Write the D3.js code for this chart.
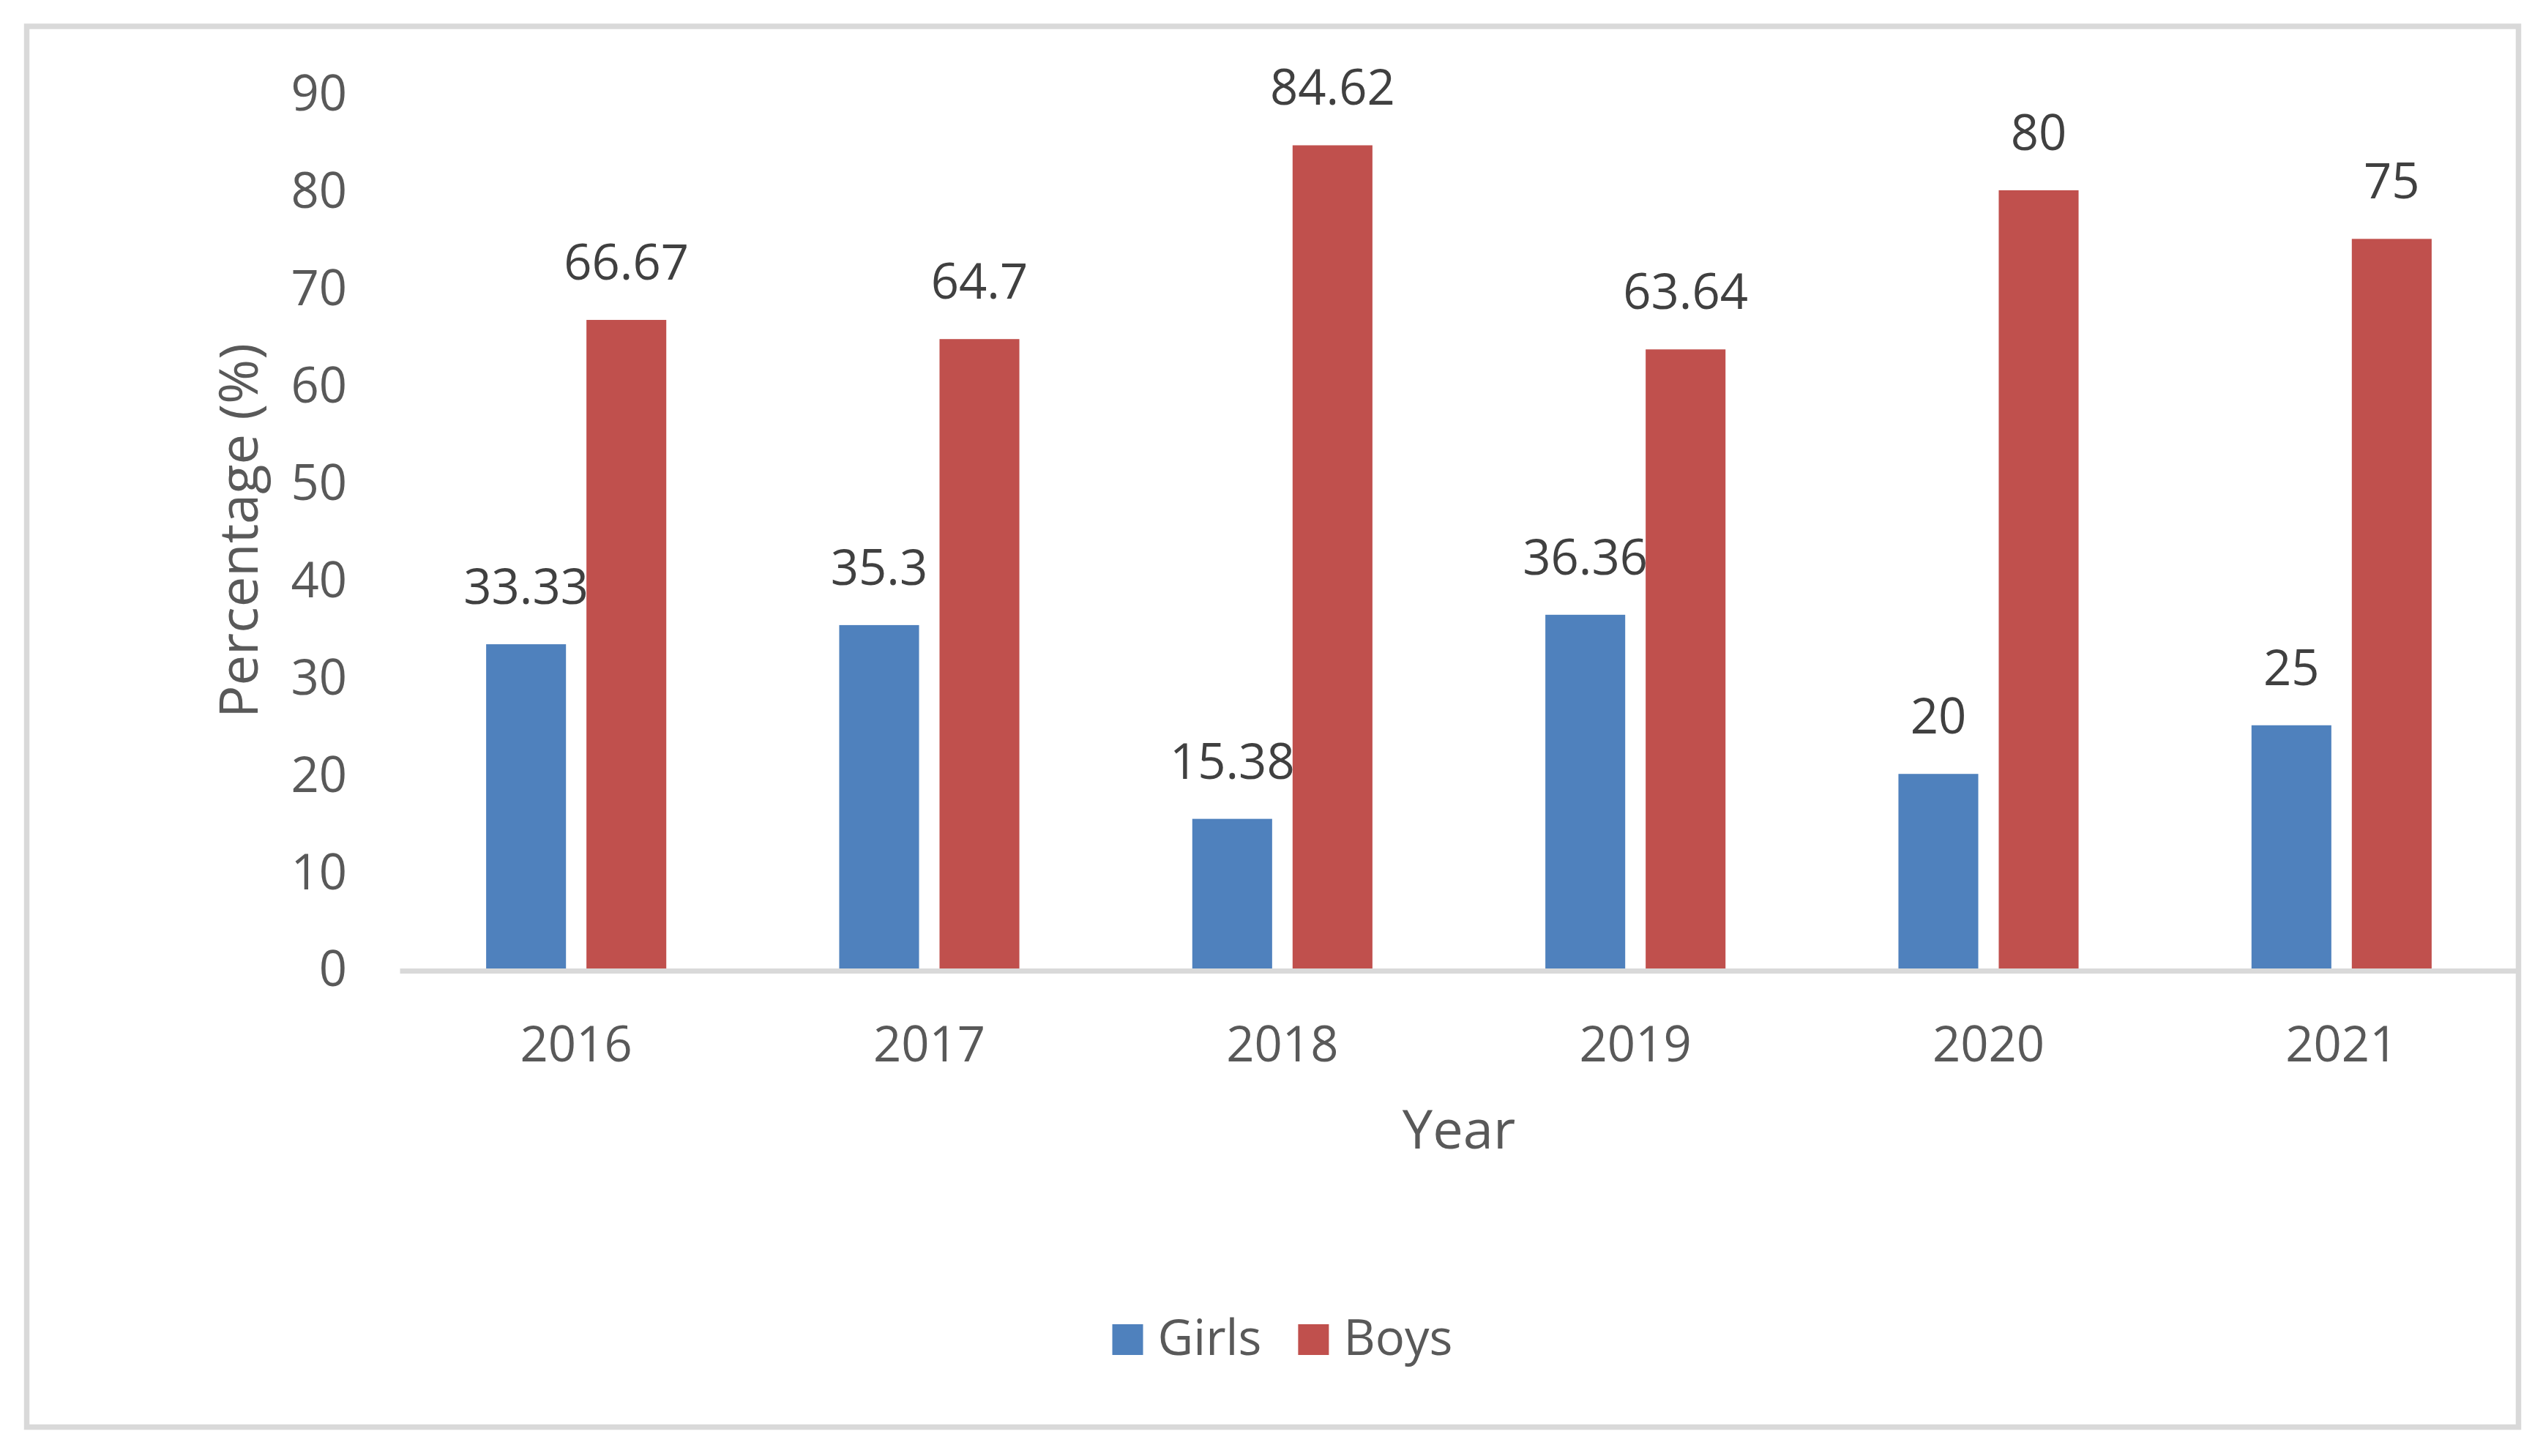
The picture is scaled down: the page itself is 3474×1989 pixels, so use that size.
<!DOCTYPE html>
<html>
<head>
<meta charset="utf-8">
<script src="https://cdn.jsdelivr.net/npm/d3@7"></script>
<style>
  body { margin: 0; background: #fff; }
  text { font-family: "Open Sans", sans-serif; }
</style>
</head>
<body>
<div id="vis"></div>
<script>
// data
var years = ['2016', '2017', '2018', '2019', '2020', '2021'];
var series = ['Girls', 'Boys'];
var girls = [33.33, 35.3, 15.38, 36.36, 20, 25];
var boys = [66.67, 64.7, 84.62, 63.64, 80, 75];
var yTicks = [0, 10, 20, 30, 40, 50, 60, 70, 80, 90];
var colors = { Girls: '#4F81BD', Boys: '#C0504D' };

var W = 3474, H = 1989;

var svg = d3.select('#vis').append('svg')
    .attr('width', W)
    .attr('height', H);

// chart border
svg.append('rect')
    .attr('x', 36.5).attr('y', 36)
    .attr('width', 3404).attr('height', 1913.5)
    .attr('fill', '#fff')
    .attr('stroke', '#d9d9d9')
    .attr('stroke-width', 7.5);

var x0 = d3.scaleBand()
    .domain(years)
    .range([546, 3440]);

var x1 = d3.scaleBand()
    .domain(series)
    .range([0, x0.bandwidth()])
    .paddingInner(0.204)
    .paddingOuter(0.862);

var y = d3.scaleLinear()
    .domain([0, 90])
    .range([1323, 127]);

var rows = years.map(function (yr, i) {
    return { year: yr, values: [
        { key: 'Girls', value: girls[i] },
        { key: 'Boys', value: boys[i] }
    ] };
});

// y axis (labels only)
var yAxis = svg.append('g')
    .attr('transform', 'translate(546,0)')
    .call(d3.axisLeft(y).tickValues(yTicks).tickSize(0).tickPadding(72));
yAxis.select('.domain').remove();
yAxis.selectAll('text')
    .attr('dy', '0.357em')
    .style('font-size', '67px')
    .style('fill', '#595959');

// bars
var groups = svg.append('g')
    .selectAll('g')
    .data(rows)
    .enter()
    .append('g')
    .attr('transform', function (d) { return 'translate(' + x0(d.year) + ',0)'; });

groups.selectAll('rect')
    .data(function (d) { return d.values; })
    .enter()
    .append('rect')
    .attr('x', function (d) { return x1(d.key); })
    .attr('y', function (d) { return y(d.value); })
    .attr('width', x1.bandwidth())
    .attr('height', function (d) { return y(0) - y(d.value); })
    .attr('fill', function (d) { return colors[d.key]; });

// data labels
groups.selectAll('text')
    .data(function (d) { return d.values; })
    .enter()
    .append('text')
    .attr('x', function (d) { return x1(d.key) + x1.bandwidth() / 2; })
    .attr('y', function (d) { return y(d.value) - 55; })
    .attr('text-anchor', 'middle')
    .style('font-size', '67px')
    .style('fill', '#404040')
    .text(function (d) { return d.value; });

// x axis
var xAxis = svg.append('g')
    .attr('transform', 'translate(0,1326)')
    .call(d3.axisBottom(x0).tickSize(0).tickPadding(76));
xAxis.select('.domain')
    .attr('stroke', '#d9d9d9')
    .attr('stroke-width', 7);
xAxis.selectAll('text')
    .style('font-size', '67px')
    .style('fill', '#595959');

// axis titles
svg.append('text')
    .attr('x', (546 + 3440) / 2)
    .attr('y', 1569)
    .attr('text-anchor', 'middle')
    .style('font-size', '74px')
    .style('fill', '#595959')
    .text('Year');

svg.append('text')
    .attr('transform', 'translate(352,' + (y(0) + y(90)) / 2 + ') rotate(-90)')
    .attr('text-anchor', 'middle')
    .style('font-size', '74px')
    .style('fill', '#595959')
    .text('Percentage (%)');

// legend, centred on the same point as in the picture
var legend = svg.append('g');
var items = series.map(function (s) {
    var t = legend.append('text')
        .attr('y', 1851)
        .style('font-size', '67px')
        .style('fill', '#595959')
        .text(s);
    return { key: s, node: t, w: t.node().getComputedTextLength() };
});
var total = d3.sum(items, function (d) { return 42 + 20 + d.w; }) + 50 * (items.length - 1);
var lx = 1752 - total / 2;
items.forEach(function (d) {
    legend.append('rect')
        .attr('x', lx).attr('y', 1809)
        .attr('width', 42).attr('height', 42)
        .attr('fill', colors[d.key]);
    d.node.attr('x', lx + 62);
    lx = lx + 62 + d.w + 50;
});
</script>
</body>
</html>
